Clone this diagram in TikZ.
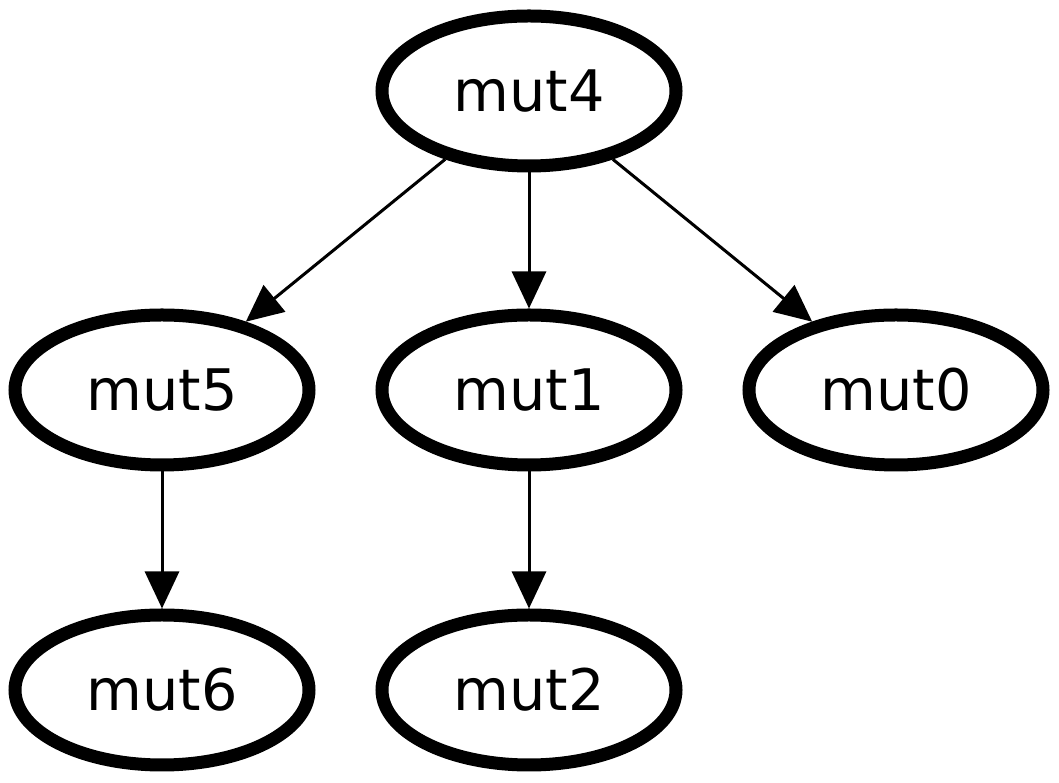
\documentclass[tikz,border=0pt]{standalone}
\usepackage{fontspec}
\setmainfont{DejaVu Sans}
\usetikzlibrary{arrows.meta,shapes.geometric}
\begin{document}
\begin{tikzpicture}[
  mut/.style={ellipse, draw, line width=0.13cm, minimum width=2.94cm,
    minimum height=1.5cm, inner sep=0pt,
    font=\fontsize{16.3}{19}\selectfont},
  edge/.style={line width=0.03cm, -{Triangle[length=0.37cm,width=0.34cm]}}
]
\useasboundingbox (0,0) rectangle (10.59,-7.83);

\node[mut] (mut4) at (5.29,-0.91) {mut4};
\node[mut] (mut5) at (1.62,-3.90) {mut5};
\node[mut] (mut1) at (5.29,-3.90) {mut1};
\node[mut] (mut0) at (8.96,-3.90) {mut0};
\node[mut] (mut6) at (1.62,-6.90) {mut6};
\node[mut] (mut2) at (5.29,-6.90) {mut2};

\draw[edge] (mut4) -- (mut5);
\draw[edge] (mut4) -- (mut1);
\draw[edge] (mut4) -- (mut0);
\draw[edge] (mut5) -- (mut6);
\draw[edge] (mut1) -- (mut2);
\end{tikzpicture}
\end{document}
